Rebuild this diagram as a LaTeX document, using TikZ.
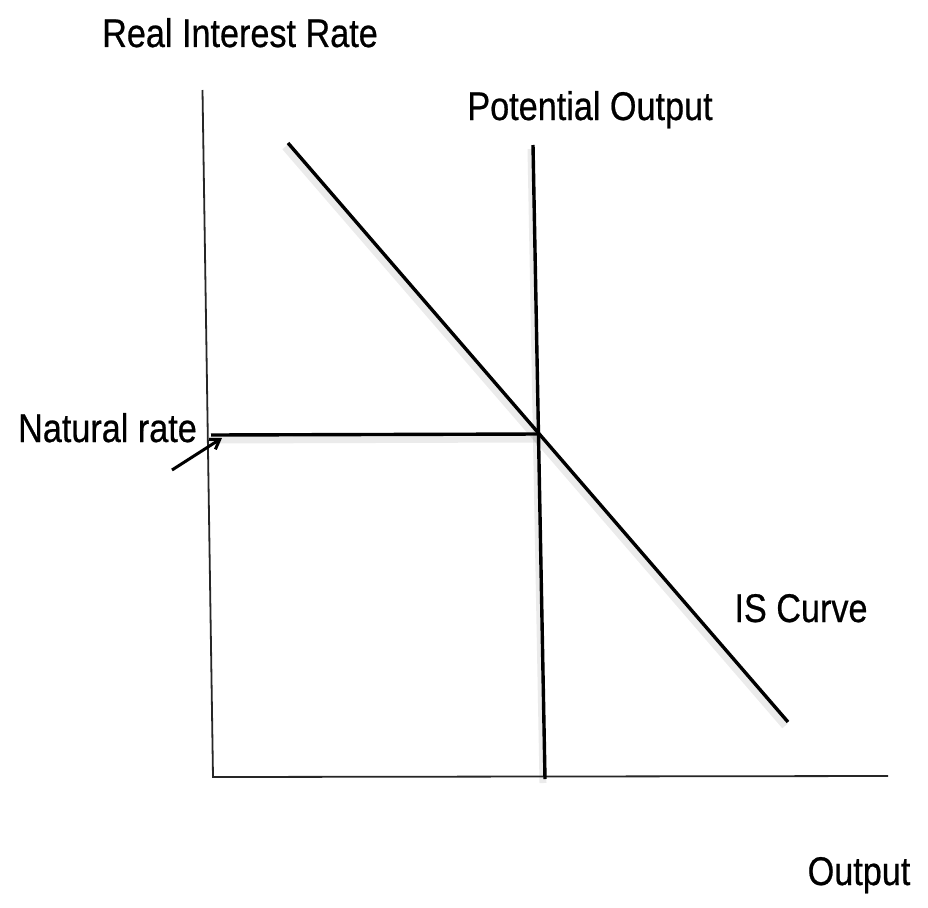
\documentclass[tikz,border=0pt]{standalone}
\usepackage{fontspec}
\setmainfont{Liberation Sans}
\newfontfamily\lblfont[FakeBold=0.6]{Liberation Sans}
\usetikzlibrary{arrows.meta}
\tikzset{
  lbl/.style={inner sep=0pt, anchor=base, xscale=0.855, font=\lblfont\fontsize{40}{46}\selectfont, text=black},
  axisline/.style={line width=1.8pt, draw=black!85},
  curveline/.style={line width=3.4pt, draw=black},
  shadowline/.style={line width=7pt, draw=black, opacity=0.08},
}
\begin{document}
\begin{tikzpicture}[x=1pt,y=-1pt]
\useasboundingbox[fill=white] (0,0) rectangle (928,907);
% coordinates
\coordinate (ytop) at (202.5,90);
\coordinate (origin) at (213,777);
\coordinate (xend) at (888,776);
\coordinate (potTop) at (533,145);
\coordinate (potBot) at (545,779);
\coordinate (isTop) at (288,143);
\coordinate (isBot) at (788,722);
\coordinate (nrStart) at (211,435);
\coordinate (nrEnd) at (540,434);
\coordinate (arStart) at (172,470);
\coordinate (arTip) at (222,438);
% shadows
\draw[shadowline] ([xshift=-3pt,yshift=-4pt]isTop) -- ([xshift=-3pt,yshift=-4pt]isBot);
\draw[shadowline] ([xshift=-2pt,yshift=-4pt]potTop) -- ([xshift=-2pt,yshift=-4pt]potBot);
\draw[shadowline] ([xshift=-2pt,yshift=-5pt]nrStart) -- ([xshift=-2pt,yshift=-5pt]nrEnd);
% axes
\draw[axisline] (ytop) -- (origin) -- (xend);
% potential output
\draw[curveline] (potTop) -- (potBot);
% IS curve
\draw[curveline] (isTop) -- (isBot);
% natural rate
\draw[curveline] (nrStart) -- (nrEnd);
% arrow
\draw[line width=3pt, -{Straight Barb[length=9pt,width=12pt]}] (arStart) -- (arTip);
% labels
\node[lbl] (rir) at (240,47) {Real Interest Rate};
\node[lbl] (po) at (590,120) {Potential Output};
\node[lbl] (nr) at (107.5,442) {Natural rate};
\node[lbl] (is) at (801,622) {IS Curve};
\node[lbl] (out) at (859,885) {Output};
\end{tikzpicture}
\end{document}
